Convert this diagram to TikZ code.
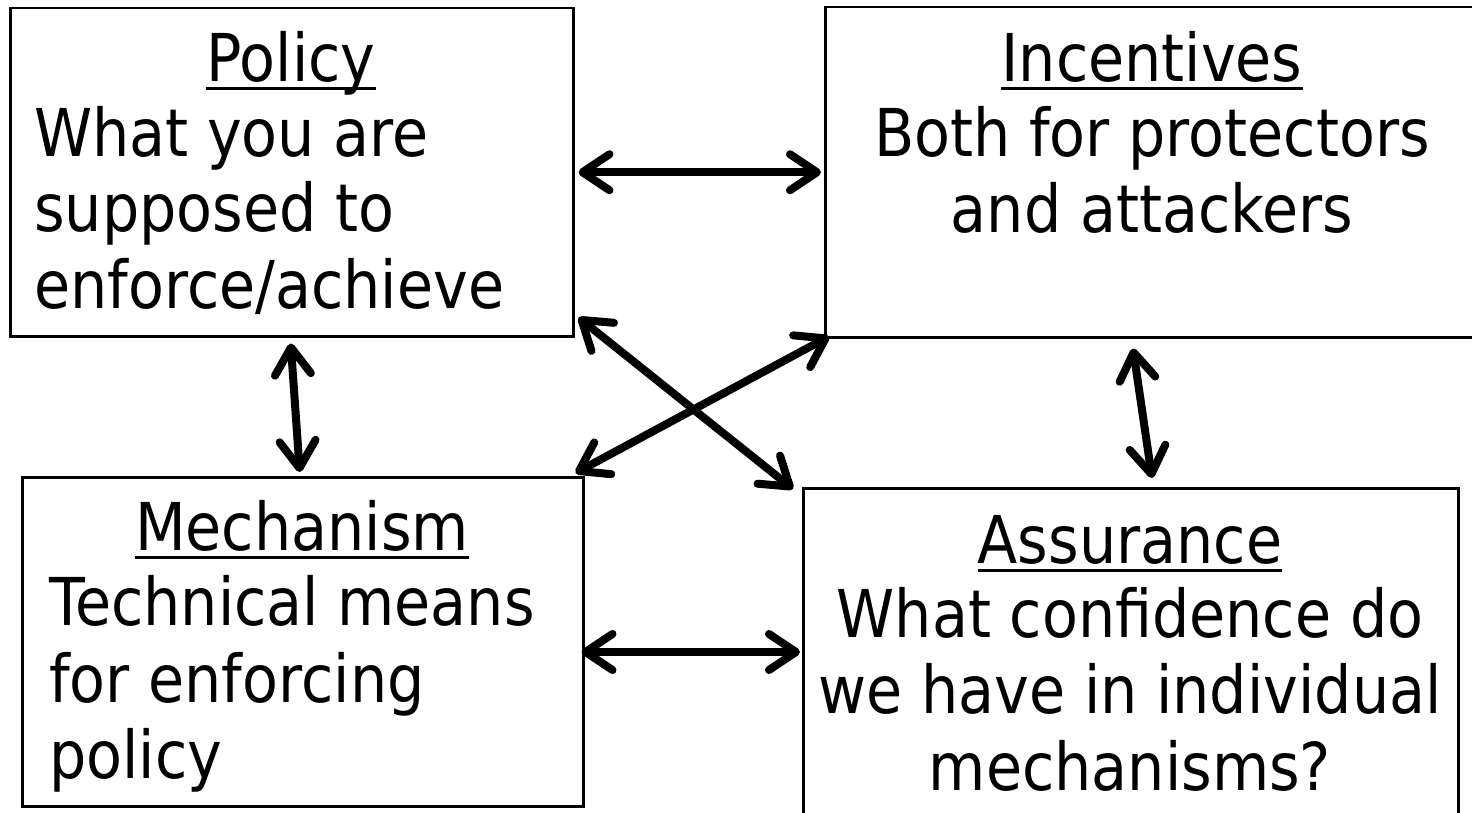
\documentclass[tikz,border=0pt]{standalone}
\usepackage{fontspec}
\setmainfont[FakeStretch=0.89]{DejaVu Sans}
\usetikzlibrary{arrows.meta}
\begin{document}
\begin{tikzpicture}[x=1pt,y=-1pt,
  box/.style={draw, line width=2.5pt, inner sep=0, anchor=north west},
  txt/.style={inner sep=0, font=\fontsize{66}{77}\selectfont},
  uline/.style={line width=3pt},
  barb/.tip={Straight Barb[length=27pt, width=36pt, line cap=round, line join=round]},
  link/.style={line width=8pt, line cap=round, barb-barb}
]
\useasboundingbox (0,0) rectangle (1472,813);

% the four boxes
\node[box, minimum width=563pt, minimum height=328pt] (policy) at (9,7) {};
\node[box, minimum width=700pt, minimum height=330pt] (incent) at (824,6) {};
\node[box, minimum width=561pt, minimum height=329pt] (mech) at (21,476) {};
\node[box, minimum width=655pt, minimum height=400pt] (assur) at (802,487) {};

% Policy
\node[txt, anchor=base] (ptitle) at (291,82) {Policy};
\draw[uline] ([yshift=-7pt]ptitle.base west) -- ([yshift=-7pt]ptitle.base east);
\node[txt, anchor=base west] (p1) at (34,157) {What you are};
\node[txt, anchor=base west] (p2) at (34,232) {supposed to};
\node[txt, anchor=base west] (p3) at (34,308) {enforce/achieve};

% Incentives
\node[txt, anchor=base] (ititle) at (1152,82) {Incentives};
\draw[uline] ([yshift=-7pt]ititle.base west) -- ([yshift=-7pt]ititle.base east);
\node[txt, anchor=base] (i1) at (1152,157) {Both for protectors};
\node[txt, anchor=base] (i2) at (1152,233) {and attackers};

% Mechanism
\node[txt, anchor=base] (mtitle) at (302,550) {Mechanism};
\draw[uline] ([yshift=-7pt]mtitle.base west) -- ([yshift=-7pt]mtitle.base east);
\node[txt, anchor=base west] (m1) at (49,625) {Technical means};
\node[txt, anchor=base west] (m2) at (49,702) {for enforcing};
\node[txt, anchor=base west] (m3) at (49,778) {policy};

% Assurance
\node[txt, anchor=base] (atitle) at (1130,563) {Assurance};
\draw[uline] ([yshift=-7pt]atitle.base west) -- ([yshift=-7pt]atitle.base east);
\node[txt, anchor=base] (a1) at (1130,637) {What confidence do};
\node[txt, anchor=base] (a2) at (1130,713) {we have in individual};
\node[txt, anchor=base] (a3) at (1130,790) {mechanisms?};

% connectors
\draw[link] ([xshift=4pt]policy.east) -- ([xshift=-3pt]incent.west);
\draw[link] ([xshift=-1pt,yshift=-6pt]policy.south) -- ([xshift=-3pt,yshift=4pt]mech.north);
\draw[link] ([xshift=309pt,yshift=-10pt]incent.south west) -- ([xshift=350pt,yshift=9pt]assur.north west);
\draw[link] ([xshift=-3pt,yshift=-176pt]mech.north east) -- ([xshift=-2pt,yshift=-165pt]assur.north west);
\draw[link] ([xshift=4pt,yshift=20pt]policy.south east) -- ([xshift=-9pt,yshift=-2pt]assur.north west);
\draw[link] ([xshift=-9pt,yshift=3pt]mech.north east) -- ([xshift=5pt,yshift=2pt]incent.south west);
\end{tikzpicture}
\end{document}
